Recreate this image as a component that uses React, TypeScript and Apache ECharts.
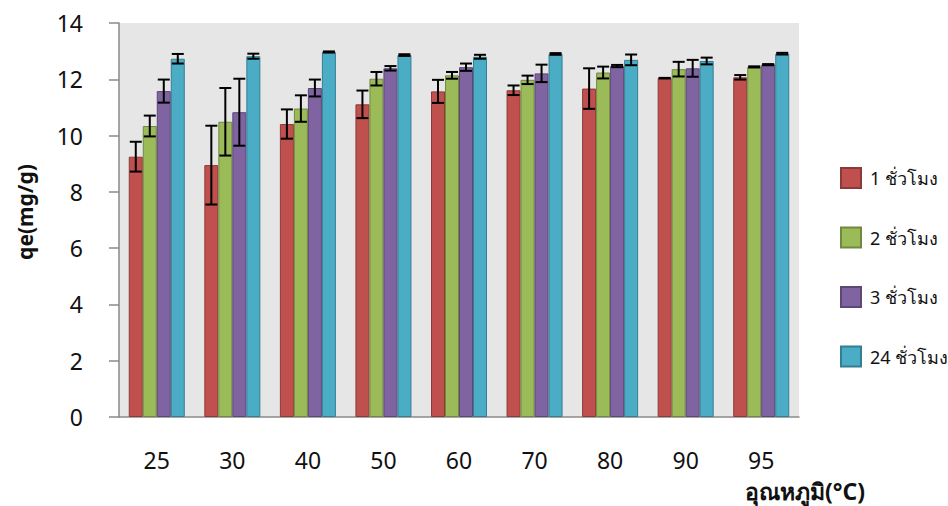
import React, { useEffect, useRef } from "react";
import * as echarts from "echarts";

// Adsorption temperature (°C) on the x axis
const categories = ["25", "30", "40", "50", "60", "70", "80", "90", "95"];

// qe (mg/g) per contact time, with standard deviations
const hour1 = [9.25, 8.95, 10.41, 11.11, 11.57, 11.61, 11.67, 12.04, 12.07];
const hour1Err = [0.53, 1.4, 0.52, 0.49, 0.41, 0.17, 0.72, 0.01, 0.08];
const hour2 = [10.34, 10.49, 10.96, 12.02, 12.14, 11.98, 12.24, 12.36, 12.44];
const hour2Err = [0.37, 1.2, 0.47, 0.24, 0.12, 0.15, 0.21, 0.26, 0.02];
const hour3 = [11.58, 10.83, 11.69, 12.39, 12.43, 12.21, 12.47, 12.39, 12.52];
const hour3Err = [0.41, 1.19, 0.3, 0.08, 0.13, 0.31, 0.04, 0.3, 0.02];
const hour24 = [12.73, 12.82, 12.97, 12.86, 12.8, 12.9, 12.69, 12.65, 12.91];
const hour24Err = [0.17, 0.09, 0.02, 0.03, 0.07, 0.03, 0.19, 0.12, 0.03];

const seriesNames = ["1 ชั่วโมง", "2 ชั่วโมง", "3 ชั่วโมง", "24 ชั่วโมง"];
const seriesValues = [hour1, hour2, hour3, hour24];
const seriesErrors = [hour1Err, hour2Err, hour3Err, hour24Err];
const fillColors = ["#c0504d", "#9bbb59", "#8064a2", "#4bacc6"];
const edgeColors = ["#8c3a38", "#71893f", "#5c4776", "#357d91"];

const FONT = "'Noto Sans', 'DejaVu Sans', sans-serif";
const BAR_W = 14;

export default function App() {
  const ref = useRef<HTMLDivElement>(null);

  useEffect(() => {
    if (!ref.current) return;
    const chart = echarts.init(ref.current, null, { renderer: "svg" });

    const barSeries = seriesNames.map((name, i) => ({
      name,
      type: "bar",
      data: seriesValues[i],
      barWidth: BAR_W,
      barGap: "0%",
      itemStyle: {
        color: fillColors[i],
        borderColor: edgeColors[i],
        borderWidth: 1,
      },
      z: 2,
    }));

    // Standard-deviation whiskers drawn over each bar
    const errorSeries = seriesNames.map((name, i) => ({
      name: name + " SD",
      type: "custom",
      z: 5,
      data: seriesValues[i].map((v, k) => [k, v - seriesErrors[i][k], v + seriesErrors[i][k]]),
      renderItem: (params: any, api: any) => {
        const offset = (i - 1.5) * BAR_W;
        const lo = api.coord([api.value(0), api.value(1)]);
        const hi = api.coord([api.value(0), api.value(2)]);
        const x = lo[0] + offset;
        const cap = 6;
        const style = { stroke: "#000", lineWidth: 2 };
        return {
          type: "group",
          children: [
            { type: "line", shape: { x1: x, y1: lo[1], x2: x, y2: hi[1] }, style },
            { type: "line", shape: { x1: x - cap, y1: lo[1], x2: x + cap, y2: lo[1] }, style },
            { type: "line", shape: { x1: x - cap, y1: hi[1], x2: x + cap, y2: hi[1] }, style },
          ],
        };
      },
    }));

    chart.setOption({
      animation: false,
      textStyle: { fontFamily: FONT },
      grid: {
        left: 119,
        right: 149,
        top: 23,
        bottom: 89,
        show: true,
        backgroundColor: "#e6e6e6",
        borderWidth: 0,
      },
      legend: {
        orient: "vertical",
        left: 835,
        top: 162,
        itemWidth: 20,
        itemHeight: 20,
        itemGap: 37.5,
        icon: "rect",
        data: seriesNames,
        textStyle: {
          fontSize: 18,
          lineHeight: 20,
          color: "#111",
          fontFamily: FONT,
          padding: [0, 0, 0, 4],
        },
      },
      xAxis: {
        type: "category",
        data: categories,
        axisLine: { lineStyle: { color: "#8a8a8a", width: 1.5 } },
        axisTick: { show: false },
        axisLabel: { margin: 32, fontSize: 23, lineHeight: 22, color: "#111", fontFamily: FONT },
      },
      yAxis: {
        type: "value",
        min: 0,
        max: 14,
        interval: 2,
        axisLine: { show: true, lineStyle: { color: "#8a8a8a", width: 1.5 } },
        axisTick: { show: true, length: 10, lineStyle: { color: "#8a8a8a", width: 1.5 } },
        splitLine: { show: false },
        axisLabel: { margin: 36, fontSize: 23, color: "#111", fontFamily: FONT },
      },
      graphic: [
        {
          type: "text",
          x: 25,
          y: 212,
          rotation: Math.PI / 2,
          style: {
            text: "qe(mg/g)",
            fontSize: 21,
            fontWeight: "bold",
            fontFamily: FONT,
            fill: "#111",
            align: "center",
            verticalAlign: "middle",
          },
        },
        {
          type: "text",
          x: 745,
          y: 491,
          style: {
            text: "อุณหภูมิ(°C)",
            fontSize: 23,
            lineHeight: 22,
            fontWeight: "bold",
            fontFamily: FONT,
            fill: "#111",
            align: "left",
            verticalAlign: "middle",
          },
        },
      ],
      series: [...barSeries, ...errorSeries],
    });

    return () => chart.dispose();
  }, []);

  return (
    <div
      ref={ref}
      style={{ position: "fixed", left: 0, top: 0, width: 948, height: 506, background: "#fff" }}
    />
  );
}
